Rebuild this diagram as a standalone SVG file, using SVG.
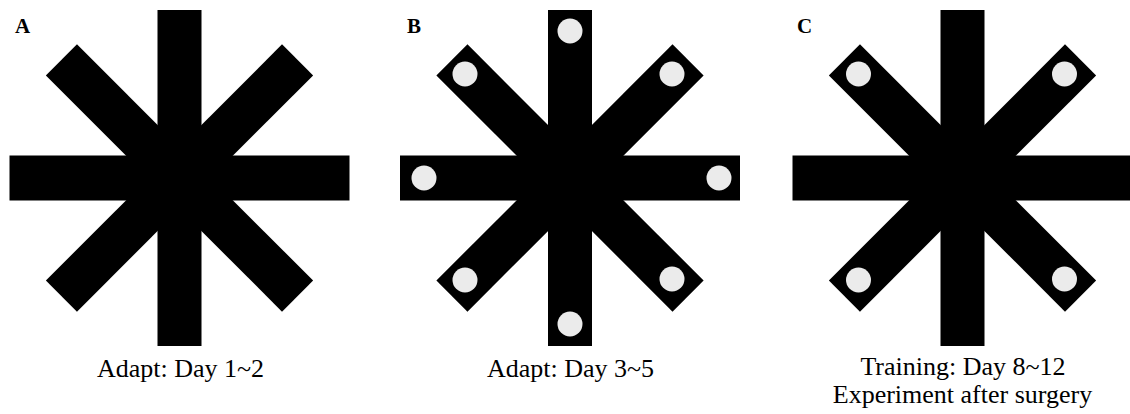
<svg xmlns="http://www.w3.org/2000/svg" xmlns:xlink="http://www.w3.org/1999/xlink" width="1130" height="414" viewBox="0 0 1130 414">
  <style>
    .arm { fill: #000; }
    .food { fill: #ebebeb; }
    .panel { font-family: "Liberation Serif", "Times New Roman", serif; font-weight: bold; font-size: 21px; fill: #000; }
    .cap { font-family: "Liberation Serif", "Times New Roman", serif; font-size: 26px; fill: #000; text-anchor: middle; }
  </style>
  <defs>
    <g id="star">
      <rect class="arm" x="-22" y="-168" width="44" height="336"/>
      <rect class="arm" x="-170" y="-22.5" width="340" height="45"/>
      <rect class="arm" x="-167" y="-22" width="334" height="44" transform="rotate(45)"/>
      <rect class="arm" x="-167" y="-22" width="334" height="44" transform="rotate(-45)"/>
    </g>
    <circle id="dot" class="food" r="12.5"/>
  </defs>
  <rect width="1130" height="414" fill="#fff"/>

  <g id="panelA">
    <use xlink:href="#star" href="#star" x="179.5" y="178"/>
    <text class="panel" x="15" y="33">A</text>
    <text class="cap" x="180.5" y="376.5">Adapt: Day 1~2</text>
  </g>

  <g id="panelB">
    <use xlink:href="#star" href="#star" x="570" y="178"/>
    <g transform="translate(570,178)">
      <use href="#dot" xlink:href="#dot" x="0" y="-147"/>
      <use href="#dot" xlink:href="#dot" x="0" y="146"/>
      <use href="#dot" xlink:href="#dot" x="-146" y="0"/>
      <use href="#dot" xlink:href="#dot" x="149" y="0"/>
      <use href="#dot" xlink:href="#dot" x="-105" y="-104"/>
      <use href="#dot" xlink:href="#dot" x="102" y="-104"/>
      <use href="#dot" xlink:href="#dot" x="-105" y="102"/>
      <use href="#dot" xlink:href="#dot" x="102" y="101"/>
    </g>
    <text class="panel" x="407" y="33">B</text>
    <text class="cap" x="570.5" y="376.5">Adapt: Day 3~5</text>
  </g>

  <g id="panelC">
    <use xlink:href="#star" href="#star" x="962.5" y="178"/>
    <g transform="translate(962.5,178)">
      <use href="#dot" xlink:href="#dot" x="-104" y="-104"/>
      <use href="#dot" xlink:href="#dot" x="102" y="-104"/>
      <use href="#dot" xlink:href="#dot" x="-104" y="102"/>
      <use href="#dot" xlink:href="#dot" x="102" y="101"/>
    </g>
    <text class="panel" x="797" y="33">C</text>
    <text class="cap" x="963" y="375">Training: Day 8~12</text>
    <text class="cap" x="962.5" y="403">Experiment after surgery</text>
  </g>
</svg>
